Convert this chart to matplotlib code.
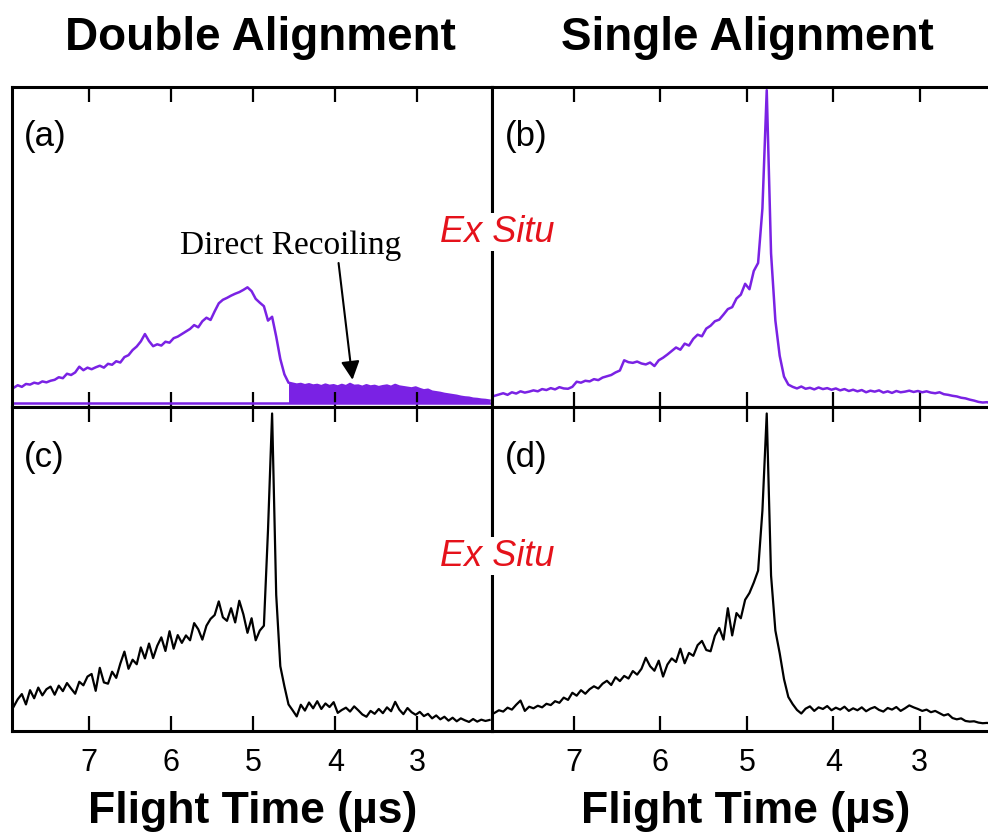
import numpy as np
import matplotlib
matplotlib.use("Agg")
import matplotlib.pyplot as plt

# flight time channels (us), one every 0.05 us from 7.92 down to 2.12
t_first, t_last = 7.92, 2.12
n_pts = 117

# intensities (arb. units, axis runs 0-100)
trace_a = [
    6.0, 6.8, 6.3, 7.2, 7.0, 7.6, 7.3, 8.0, 7.7, 8.2,
    8.5, 9.3, 9.0, 10.4, 10.0, 10.8, 12.6, 11.5, 12.3, 11.8,
    12.4, 12.9, 12.3, 13.5, 13.2, 14.3, 13.9, 15.6, 16.2, 17.8,
    18.9, 20.5, 22.8, 20.6, 19.0, 19.6, 19.2, 20.4, 20.1, 21.5,
    22.0, 22.8, 23.6, 24.4, 25.6, 24.9, 26.8, 27.9, 27.2, 29.9,
    32.4, 33.5, 34.1, 34.8, 35.4, 35.9, 36.6, 37.4, 36.2, 33.8,
    32.6, 31.5, 27.0, 28.2, 22.0, 15.0, 10.2, 7.6, 7.3, 7.0,
    7.2, 6.8, 7.1, 6.7, 6.9, 6.5, 7.0, 6.6, 6.8, 6.4,
    6.9, 6.5, 7.2, 6.6, 6.7, 6.3, 6.8, 6.4, 6.6, 6.2,
    6.5, 6.7, 6.3, 6.9, 6.4, 6.2, 6.0, 5.8, 6.1, 5.6,
    5.2, 5.4, 4.8, 4.6, 4.4, 4.1, 3.9, 3.7, 3.5, 3.2,
    3.0, 2.9, 2.6, 2.5, 2.3, 2.2, 2.0,
]
base_a = 1.2
recoil_start = 4.57

trace_b = [
    3.5, 3.9, 4.3, 3.8, 4.6, 4.2, 4.9, 4.5, 4.8, 5.2,
    4.9, 5.6, 5.3, 5.9, 5.5, 6.2, 5.8, 5.7, 6.3, 7.9,
    7.6, 8.2, 8.0, 8.7, 8.4, 9.2, 9.6, 10.0, 10.8, 11.4,
    14.6, 14.0, 13.8, 14.2, 13.6, 13.3, 13.9, 12.8, 14.6, 15.4,
    16.4, 17.5, 18.6, 17.9, 19.8, 19.2, 21.3, 22.6, 22.1, 24.5,
    25.4, 26.8, 27.3, 28.9, 30.6, 31.2, 33.9, 35.1, 38.5, 36.8,
    42.5, 45.0, 62.0, 99.0, 48.0, 27.0, 16.0, 9.5, 7.0, 6.3,
    5.8, 6.4, 5.7, 6.0, 5.5, 6.1, 5.6, 5.9, 5.4, 5.8,
    5.2, 5.6, 5.0, 5.4, 4.9, 5.3, 4.6, 5.1, 4.8, 5.2,
    4.5, 4.9, 4.4, 5.0, 4.6, 4.8, 5.1, 4.7, 5.0, 4.6,
    4.9, 4.5, 4.3, 4.6, 4.0, 3.8, 3.5, 3.3, 2.9, 2.7,
    2.3, 2.0, 1.6, 1.4, 1.5, 1.1, 1.2,
]

trace_c = [
    7.5, 9.8, 11.4, 8.2, 12.6, 10.1, 13.4, 11.0, 12.9, 13.7,
    11.2, 14.0, 12.3, 14.8, 13.1, 11.5, 15.2, 14.1, 16.8, 17.6,
    12.4, 19.5, 15.0, 14.6, 18.3, 16.4, 20.8, 24.5, 19.2, 22.0,
    20.6, 25.8, 22.4, 27.0, 22.5, 26.3, 28.9, 24.7, 30.8, 25.4,
    29.6, 27.2, 29.5, 28.0, 33.3, 31.4, 28.2, 32.5, 34.6, 35.8,
    40.0, 35.1, 34.0, 37.9, 33.5, 40.2, 36.0, 30.3, 34.8, 28.0,
    31.0, 32.5, 62.0, 98.0, 42.0, 20.0, 13.8, 8.2, 6.4, 4.5,
    8.1, 6.3, 8.8, 7.0, 9.2, 6.8, 8.5, 7.4, 8.9, 5.6,
    6.5, 7.2, 6.0, 7.6, 6.4, 5.1, 4.4, 6.2, 5.3, 6.8,
    5.5, 7.3, 6.1, 9.0, 6.6, 5.2, 7.1, 5.8, 5.0, 5.9,
    4.6, 5.3, 3.9, 4.8, 3.6, 4.4, 3.2, 4.1, 3.0, 3.9,
    3.3, 2.8, 3.7, 2.9, 3.5, 3.1, 3.4,
]

trace_d = [
    5.6, 6.4, 6.0, 7.2, 6.6, 8.1, 9.4, 6.2, 7.5, 7.0,
    7.8, 7.3, 8.4, 8.0, 9.2, 8.7, 10.3, 9.6, 11.8, 10.9,
    12.6, 11.5, 12.9, 13.8, 13.1, 14.6, 15.5, 14.2, 16.6, 15.4,
    17.0, 16.2, 18.5, 17.4, 19.2, 22.6, 20.0, 18.6, 21.7, 16.8,
    20.5, 22.4, 21.3, 25.4, 20.9, 24.1, 23.2, 26.5, 27.8, 25.0,
    24.6, 29.4, 31.8, 28.2, 37.9, 29.5, 36.4, 34.8, 40.5, 42.6,
    45.8, 49.5, 68.0, 98.0, 48.0, 31.0, 24.0, 16.0, 10.5, 8.3,
    6.5, 5.4, 6.9, 7.6, 6.2, 7.3, 6.8, 7.7, 6.4, 7.2,
    6.6, 7.5, 6.2, 7.0, 6.4, 7.3, 6.1, 6.9, 7.4, 6.5,
    6.0, 7.1, 6.6, 7.4, 6.2, 7.0, 7.9, 7.3, 6.8, 6.2,
    6.6, 5.8, 6.2, 5.5, 4.8, 5.2, 4.0, 3.6, 3.9, 3.1,
    2.9, 3.0, 2.6, 2.4, 2.5, 2.3, 2.4,
]

col_titles = ["Double Alignment", "Single Alignment"]
panel_tags = ["(a)", "(b)", "(c)", "(d)"]
xticks = [7, 6, 5, 4, 3]
xlabel = "Flight Time (\u00b5s)"

PURPLE = "#7a22e4"
RED = "#e5121b"
SANS = ["Liberation Sans", "DejaVu Sans"]

t = np.linspace(t_first, t_last, n_pts)

fig = plt.figure(figsize=(9.88, 8.39), dpi=100)
W, H = 988.0, 839.0


def px_axes(x0, y0, x1, y1):
    # axes from pixel box (top-left origin)
    return fig.add_axes([x0 / W, 1 - y1 / H, (x1 - x0) / W, (y1 - y0) / H])


ax_a = px_axes(12, 87, 492, 407)
ax_b = px_axes(492, 87, 1000, 407)
ax_c = px_axes(12, 407, 492, 731)
ax_d = px_axes(492, 407, 1000, 731)

left_lim = (7.94, 2.09)
right_lim = (7.95, 2.07)

for ax, lim in [(ax_a, left_lim), (ax_b, right_lim), (ax_c, left_lim), (ax_d, right_lim)]:
    ax.set_xlim(*lim)
    ax.set_ylim(0, 100)
    ax.set_yticks([])
    ax.set_xticks(xticks)
    ax.tick_params(axis="x", direction="in", length=11, width=1.6,
                   top=True, bottom=True, labelbottom=False)
    for s in ax.spines.values():
        s.set_linewidth(2.2)

for ax in (ax_b, ax_d):
    ax.spines["right"].set_visible(False)

for ax in (ax_c, ax_d):
    ax.tick_params(axis="x", labelbottom=True, pad=12)
    for lab in ax.get_xticklabels():
        lab.set_fontsize(22)
        lab.set_family(SANS)

# (a) with the filled direct-recoil part
a = np.array(trace_a)
ax_a.plot(t, a, color=PURPLE, lw=1.8)
ax_a.plot(t, np.full_like(t, base_a), color=PURPLE, lw=1.8)
m = t <= recoil_start + 1e-9
ax_a.fill_between(t[m], base_a, a[m], color=PURPLE, lw=0)

ax_b.plot(t, trace_b, color=PURPLE, lw=1.8)
ax_c.plot(t, trace_c, color="black", lw=1.6)
ax_d.plot(t, trace_d, color="black", lw=1.6)

for ax, tag in zip([ax_a, ax_b, ax_c, ax_d], panel_tags):
    ax.text(0.025, 0.845, tag, transform=ax.transAxes, fontsize=25,
            family=SANS, ha="left", va="center")

ax_a.text(4.55, 50.5, "Direct Recoiling", family=["Liberation Serif", "DejaVu Serif"],
          fontsize=24, ha="center", va="center")
ax_a.annotate("", xy=(3.79, 8.5), xytext=(3.96, 45.0),
              arrowprops=dict(arrowstyle="-|>", color="black", lw=1.5,
                              mutation_scale=28, shrinkA=0, shrinkB=0))

for y in (232, 556):
    fig.text(497 / W, 1 - y / H, "Ex Situ", color=RED, fontsize=26,
             style="italic", family=SANS, ha="center", va="center",
             bbox=dict(facecolor="white", edgecolor="none", pad=1))

for x, title in zip((260, 747), col_titles):
    fig.text(x / W, 1 - 38 / H, title, fontsize=33, fontweight="bold",
             family=SANS, ha="center", va="center")

for x in (253, 746):
    fig.text(x / W, 1 - 812 / H, xlabel, fontsize=32, fontweight="bold",
             family=SANS, ha="center", va="center")

fig.savefig("out.png", dpi=100)
